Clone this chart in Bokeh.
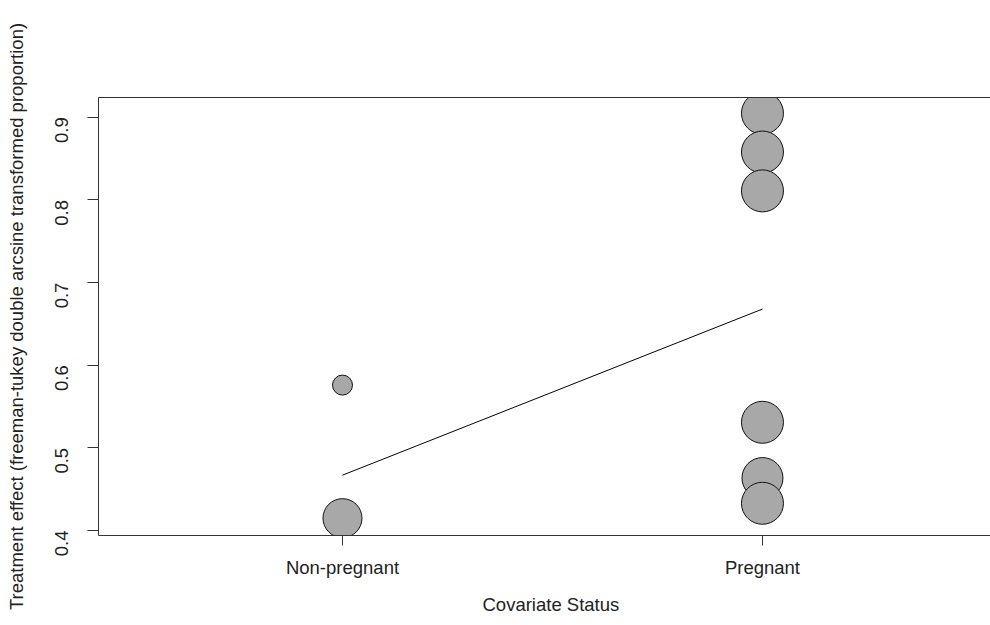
from bokeh.plotting import figure
from bokeh.models import FixedTicker, LinearAxis, Range1d, Title
from bokeh.embed import file_html
from bokeh.resources import INLINE
import math

# ---- data ----
categories = ["Non-pregnant", "Pregnant"]
cat_pos = [1, 2]
pt_group = [1, 1, 2, 2, 2, 2, 2, 2]
pt_effect = [0.576, 0.415, 0.905, 0.858, 0.811, 0.531, 0.4635, 0.433]
pt_weight = [20, 39, 42, 42, 42, 42, 41, 42]   # bubble diameter (relative weight)
fit_x = [1, 2]
fit_y = [0.467, 0.668]
y_ticks = [0.4, 0.5, 0.6, 0.7, 0.8, 0.9]
x_title = "Covariate Status"
y_title = "Treatment effect (freeman-tukey double arcsine transformed proportion)"

FONT = "Liberation Sans"
FS = "18.5px"
TXT = "#222222"

p = figure(width=990, height=625, output_backend="svg", toolbar_location=None,
           x_range=Range1d(0.419, 2.543), y_range=Range1d(0.394, 0.924),
           min_border_left=98, min_border_right=0, min_border_top=97, min_border_bottom=90,
           background_fill_color="white", border_fill_color="white")
p.outline_line_color = None
p.grid.visible = False

p.line(fit_x, fit_y, line_color="black", line_width=1)
p.scatter(pt_group, pt_effect, size=pt_weight, marker="circle",
          fill_color="#a8a8a8", line_color="#111111", line_width=1)

xa = p.xaxis[0]
xa.ticker = FixedTicker(ticks=cat_pos)
xa.major_label_overrides = {c: l for c, l in zip(cat_pos, categories)}
xa.minor_tick_line_color = None
xa.major_tick_out = 10
xa.major_tick_in = 0
xa.major_label_standoff = 11

ya = p.yaxis[0]
ya.ticker = FixedTicker(ticks=y_ticks)
ya.axis_label = y_title
ya.minor_tick_line_color = None
ya.major_tick_out = 11
ya.major_tick_in = 0
ya.major_label_orientation = math.pi / 2
ya.major_label_standoff = 26
ya.axis_label_standoff = 19

for ax in (xa, ya):
    ax.axis_line_color = "#333333"
    ax.major_tick_line_color = "#333333"
    ax.major_label_text_font = FONT
    ax.major_label_text_font_size = FS
    ax.major_label_text_color = TXT
    ax.axis_label_text_font = FONT
    ax.axis_label_text_font_size = FS
    ax.axis_label_text_font_style = "normal"
    ax.axis_label_text_color = TXT

# x-axis title, centred between the two categories (as in the cropped original)
p.add_layout(Title(text=x_title, align="left", offset=384, standoff=22,
                   text_font=FONT, text_font_size=FS, text_font_style="normal",
                   text_color=TXT), "below")

top = LinearAxis(ticker=FixedTicker(ticks=[]), major_label_text_font_size="0px",
                 major_tick_line_color=None, minor_tick_line_color=None,
                 major_tick_out=0, major_label_standoff=0,
                 axis_line_color="#333333")
p.add_layout(top, "above")

open("out.html", "w").write(file_html(p, INLINE))
